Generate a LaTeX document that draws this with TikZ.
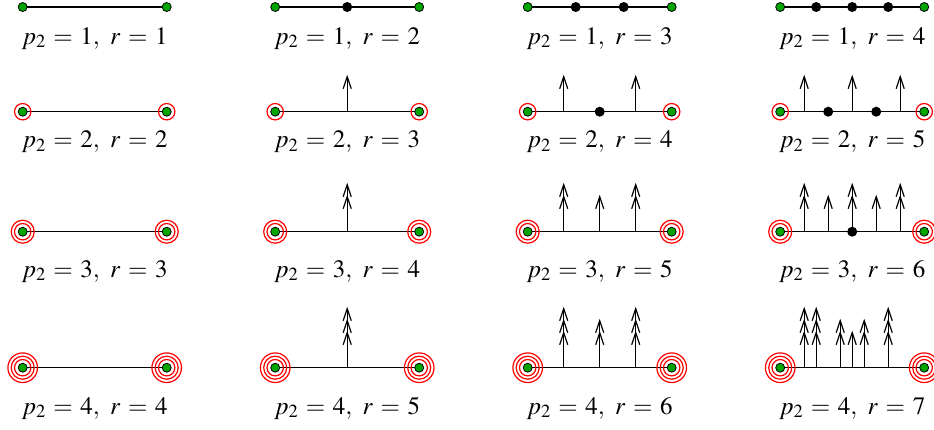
\documentclass[tikz,border=0pt]{standalone}
\usepackage{mathptmx}
\definecolor{dotgreen}{RGB}{0,165,0}
\tikzset{
  segline/.style={line width=1.3pt, draw=black},
  shaft/.style={line width=1.35pt},
  barb/.style={line width=1.2pt, line join=miter},
  ring/.style={draw=red, line width=1.2pt},
  gdot/.style={fill=dotgreen, draw=black, line width=0.8pt},
  bdot/.style={fill=black},
  lab/.style={anchor=base, inner sep=0pt, font=\fontsize{25}{30}\selectfont},
  pics/arr/.style={code={
    \draw[shaft] (0,0) -- (0,{-23-12*#1});
    \foreach \k in {1,...,#1}
      \draw[barb] (-4,{-11-12*\k}) -- (0,{-23-12*\k}) -- (4,{-11-12*\k});
  }}
}
\newcommand\gd[1]{\path[gdot] (#1) circle[radius=4.5];}
\newcommand\bd[1]{\path[bdot] (#1) circle[radius=5];}
\newcommand\ringset[2]{\foreach \k in {1,...,#2} \draw[ring] (#1) circle[radius={8.2+3.3*(\k-1)}];}
\begin{document}
\begin{tikzpicture}[x=1pt,y=-1pt]
\useasboundingbox (0,0) rectangle (934,429);
\clip (0,0) rectangle (934,429);
% lines, endpoints and labels
\foreach \row/\L/\base in {1/7/44, 2/111.7/147.7, 3/231.7/277, 4/367.7/414} {
  \foreach \col/\X/\d in {1/22.7/0, 2/275.2/1, 3/527.7/2, 4/780.2/3} {
    \pgfmathtruncatemacro\rr{\row+\d}
    \coordinate (e\row\col l) at (\X,\L);
    \coordinate (e\row\col r) at (\X+144,\L);
    \draw[segline] (e\row\col l) -- (e\row\col r);
    \node[lab] (t\row\col) at (\X+72,\base) {$\thickmuskip=5.5mu p_2 = \row,\ r = \rr$};
  }
}
% arrows, row 2
\pic at (347.2,111.7) {arr=1};
\pic at (563.7,111.7) {arr=1};
\pic at (635.7,111.7) {arr=1};
\pic at (804.2,111.7) {arr=1};
\pic at (852.2,111.7) {arr=1};
\pic at (900.2,111.7) {arr=1};
% arrows, row 3
\pic at (347.2,231.7) {arr=2};
\pic at (563.7,231.7) {arr=2};
\pic at (599.7,231.7) {arr=1};
\pic at (635.7,231.7) {arr=2};
\pic at (804.2,231.7) {arr=2};
\pic at (828.2,231.7) {arr=1};
\pic at (852.2,231.7) {arr=2};
\pic at (876.2,231.7) {arr=1};
\pic at (900.2,231.7) {arr=2};
% arrows, row 4
\pic at (347.2,367.7) {arr=3};
\pic at (563.7,367.7) {arr=3};
\pic at (599.7,367.7) {arr=2};
\pic at (635.7,367.7) {arr=3};
\pic at (804.2,367.7) {arr=3};
\pic at (816.2,367.7) {arr=3};
\pic at (840.2,367.7) {arr=2};
\pic at (852.2,367.7) {arr=1};
\pic at (864.2,367.7) {arr=2};
\pic at (888.2,367.7) {arr=3};
% rings
\foreach \col in {1,2,3,4} {
  \ringset{e2\col l}{1} \ringset{e2\col r}{1}
  \ringset{e3\col l}{2} \ringset{e3\col r}{2}
  \ringset{e4\col l}{3} \ringset{e4\col r}{3}
}
% green end dots
\foreach \row in {1,2,3,4} {
  \foreach \col in {1,2,3,4} { \gd{e\row\col l} \gd{e\row\col r} }
}
% black dots
\bd{347.2,7}
\bd{575.7,7} \bd{623.7,7}
\bd{816.2,7} \bd{852.2,7} \bd{888.2,7}
\bd{599.7,111.7}
\bd{828.2,111.7} \bd{876.2,111.7}
\bd{852.2,231.7}
\end{tikzpicture}
\end{document}
